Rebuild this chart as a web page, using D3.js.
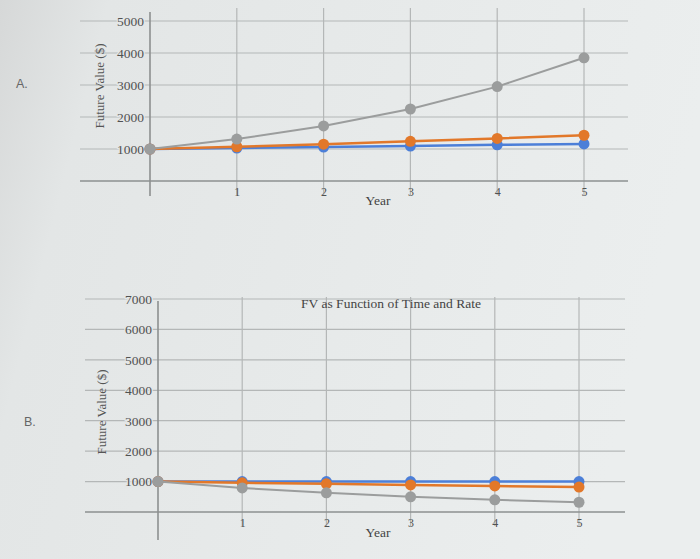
<!DOCTYPE html>
<html><head><meta charset="utf-8">
<script src="https://cdn.jsdelivr.net/npm/d3@7"></script>
<style>html,body{margin:0;padding:0;}svg{display:block;}</style>
</head><body>
<svg id="c" width="700" height="559"></svg>
<script>
const years = [0, 1, 2, 3, 4, 5];
const xTickLabels = ["", "1", "2", "3", "4", "5"];
// Chart A
const aTicks = [1000, 2000, 3000, 4000, 5000];
const aGray = [1000, 1310, 1720, 2250, 2950, 3850];
const aOrange = [1000, 1070, 1150, 1240, 1330, 1430];
const aBlue = [1000, 1030, 1060, 1090, 1130, 1160];
// Chart B
const bTicks = [1000, 2000, 3000, 4000, 5000, 6000, 7000];
const bBlue = [1000, 1000, 1000, 1000, 1000, 1000];
const bOrange = [1000, 960, 925, 890, 855, 820];
const bGray = [1000, 790, 630, 500, 400, 320];
const titleB = "FV as Function of Time and Rate";

const svg = d3.select("#c");
const defs = svg.append("defs");
const grad = defs.append("linearGradient").attr("id", "bg").attr("x1", 0).attr("x2", 1).attr("y1", 0).attr("y2", 0.2);
grad.append("stop").attr("offset", 0).attr("stop-color", "#d6d8d8");
grad.append("stop").attr("offset", 0.15).attr("stop-color", "#e3e6e6");
grad.append("stop").attr("offset", 1).attr("stop-color", "#ebeeee");
svg.append("rect").attr("width", 700).attr("height", 559).attr("fill", "url(#bg)");

const font = "'Liberation Serif', 'Times New Roman', serif";
const colors = { blue: "#4c7fd8", orange: "#e2782a", gray: "#9b9d9d" };

function drawChart(cfg) {
  const g = svg.append("g");
  const x = d3.scaleLinear().domain([0, 5]).range([cfg.x0, cfg.x1]);
  const y = d3.scaleLinear().domain([0, cfg.ymax]).range([cfg.y0, cfg.y1]);
  g.selectAll(".hg").data(cfg.ticks).join("line")
    .attr("x1", cfg.gl).attr("x2", cfg.gr)
    .attr("y1", d => y(d)).attr("y2", d => y(d))
    .attr("stroke", "#b4b7b7").attr("stroke-width", 1.2);
  g.selectAll(".vg").data(years.slice(1)).join("line")
    .attr("x1", d => x(d)).attr("x2", d => x(d))
    .attr("y1", cfg.gt).attr("y2", cfg.y0 + 14)
    .attr("stroke", "#b4b7b7").attr("stroke-width", 1.2);
  g.append("line").attr("x1", cfg.gl).attr("x2", cfg.gr)
    .attr("y1", y(0)).attr("y2", y(0))
    .attr("stroke", "#8d9090").attr("stroke-width", 1.6);
  g.append("line").attr("x1", x(0)).attr("x2", x(0))
    .attr("y1", cfg.gt + 4).attr("y2", cfg.y0 + 15 + cfg.yAxisExtra)
    .attr("stroke", "#8d9090").attr("stroke-width", 1.6);
  const ya = g.append("g").attr("transform", `translate(${x(0) - 4},0)`)
    .call(d3.axisLeft(y).tickValues(cfg.ticks).tickSize(0).tickPadding(2).tickFormat(d3.format("d")));
  ya.select(".domain").remove();
  ya.selectAll("text").attr("font-family", font).attr("font-size", 13.5).attr("fill", "#505252")
    .attr("stroke", "#e4e6e6").attr("stroke-width", 2.5).attr("paint-order", "stroke");
  const xa = g.append("g").attr("transform", `translate(0,${y(0) + 6})`)
    .call(d3.axisBottom(x).tickValues(years.slice(1)).tickSize(0).tickPadding(0).tickFormat(d => xTickLabels[d]));
  xa.select(".domain").remove();
  xa.selectAll("text").attr("font-family", font).attr("font-size", 12).attr("fill", "#505252");
  const line = d3.line().x((d, i) => x(years[i])).y(d => y(d));
  cfg.series.forEach(s => {
    g.append("path").datum(s.values).attr("d", line)
      .attr("fill", "none").attr("stroke", s.color).attr("stroke-width", s.w);
    g.selectAll(null).data(s.values).join("circle")
      .attr("cx", (d, i) => x(years[i])).attr("cy", d => y(d)).attr("r", 5.5)
      .attr("fill", s.color);
  });
  g.append("text").attr("x", cfg.yearX).attr("y", y(0) + cfg.yearDy)
    .attr("font-family", font).attr("font-size", 13.5).attr("fill", "#444")
    .attr("text-anchor", "middle").text("Year");
  g.append("text").attr("transform", `translate(${cfg.ytX},${cfg.ytY}) rotate(-90)`)
    .attr("font-family", font).attr("font-size", 13).attr("fill", "#555")
    .attr("text-anchor", "middle").text("Future Value ($)");
  g.append("text").attr("x", cfg.lblX).attr("y", cfg.lblY)
    .attr("font-family", "'Liberation Sans', Arial, sans-serif").attr("font-size", 12.5).attr("fill", "#666")
    .text(cfg.label);
  return { g, x, y };
}

drawChart({
  x0: 150, x1: 584, y0: 181, ymax: 5000, y1: 21, ticks: aTicks,
  gl: 80, gr: 628, gt: 8, yAxisExtra: 0,
  series: [
    { values: aBlue, color: colors.blue, w: 2.5 },
    { values: aOrange, color: colors.orange, w: 2.5 },
    { values: aGray, color: colors.gray, w: 2 }
  ],
  yearX: 378, yearDy: 24, ytX: 104, ytY: 86, lblX: 16, lblY: 88, label: "A."
});

const B = drawChart({
  x0: 158, x1: 579, y0: 512, ymax: 7000, y1: 299, ticks: bTicks,
  gl: 85, gr: 625, gt: 297, yAxisExtra: 13,
  series: [
    { values: bBlue, color: colors.blue, w: 2.5 },
    { values: bOrange, color: colors.orange, w: 2.5 },
    { values: bGray, color: colors.gray, w: 2 }
  ],
  yearX: 378, yearDy: 25, ytX: 106, ytY: 412, lblX: 24, lblY: 426, label: "B."
});
B.g.append("text").attr("x", 391).attr("y", 308)
  .attr("font-family", font).attr("font-size", 13.5).attr("fill", "#444")
  .attr("text-anchor", "middle").text(titleB);
</script>
</body></html>
